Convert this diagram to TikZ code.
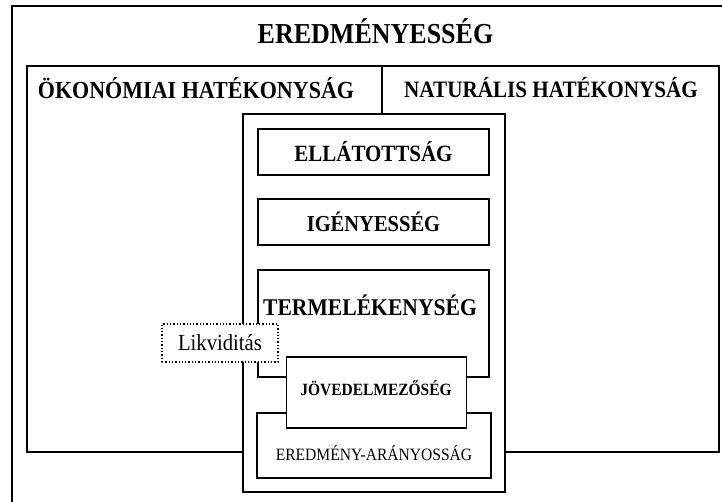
\documentclass[tikz,border=0pt]{standalone}
\usepackage{fontspec}
\setmainfont[FakeStretch=0.9]{Liberation Serif}
\begin{document}
\begin{tikzpicture}[x=1pt,y=-1pt,
  box/.style={draw, line width=1.6pt, fill=white, inner sep=0pt},
  lbl/.style={inner sep=0pt, font=\bfseries},
  dotbox/.style={draw, line width=1.3pt, dotted, fill=white, inner sep=0pt}]
\useasboundingbox (0,0) rectangle (722,502);
% outer frame (runs off the right and bottom edges)
\coordinate (fbl) at (12,504);
\coordinate (ftl) at (12,6);
\coordinate (ftr) at (724,6);
\draw[line width=2pt] (fbl) -- (ftl) -- (ftr);
\node[lbl, font=\bfseries\fontsize{28.9}{32}\selectfont] (title) at (375.5,31) {EREDMÉNYESSÉG};
% big box
\node[box, minimum width=692pt, minimum height=386pt] (big) at (373,259) {};
\node[lbl, font=\bfseries\fontsize{24.5}{28}\selectfont] (okon) at (196,88) {ÖKONÓMIAI HATÉKONYSÁG};
\node[lbl, font=\bfseries\fontsize{23.5}{28}\selectfont] (nat) at (551,88) {NATURÁLIS HATÉKONYSÁG};
% central box
\node[box, minimum width=262pt, minimum height=378pt] (central) at (374,303) {};
\coordinate (divtop) at (382,66);
\draw[line width=1.6pt] (divtop) -- (divtop |- central.north);
% inner boxes
\node[box, minimum width=231pt, minimum height=46pt] (ell) at (373.5,152) {};
\node[lbl, font=\bfseries\fontsize{23.3}{27}\selectfont] (ellt) at (ell.center) {ELLÁTOTTSÁG};
\node[box, minimum width=231pt, minimum height=46pt] (ige) at (373.5,222) {};
\node[lbl, font=\bfseries\fontsize{22.8}{27}\selectfont] (iget) at (ige.center) {IGÉNYESSÉG};
\node[box, minimum width=231pt, minimum height=107pt] (term) at (373.5,323.5) {};
\node[lbl, font=\bfseries\fontsize{24}{28}\selectfont] (termt) at (370,305) {TERMELÉKENYSÉG};
\node[box, minimum width=234pt, minimum height=65pt] (arany) at (374,445.5) {};
\node[inner sep=0pt, font=\fontsize{17.3}{21}\selectfont] (aranyt) at (374,453) {EREDMÉNY-ARÁNYOSSÁG};
\node[box, minimum width=180pt, minimum height=71pt] (jov) at (376.5,392.5) {};
\node[lbl, font=\bfseries\fontsize{17.2}{21}\selectfont] (jovt) at (376,388) {JÖVEDELMEZŐSÉG};
\node[dotbox, minimum width=116pt, minimum height=38pt] (likv) at (220,343) {};
\node[inner sep=0pt, font=\fontsize{23}{27}\selectfont] (likvt) at (likv.center) {Likviditás};
\end{tikzpicture}
\end{document}
